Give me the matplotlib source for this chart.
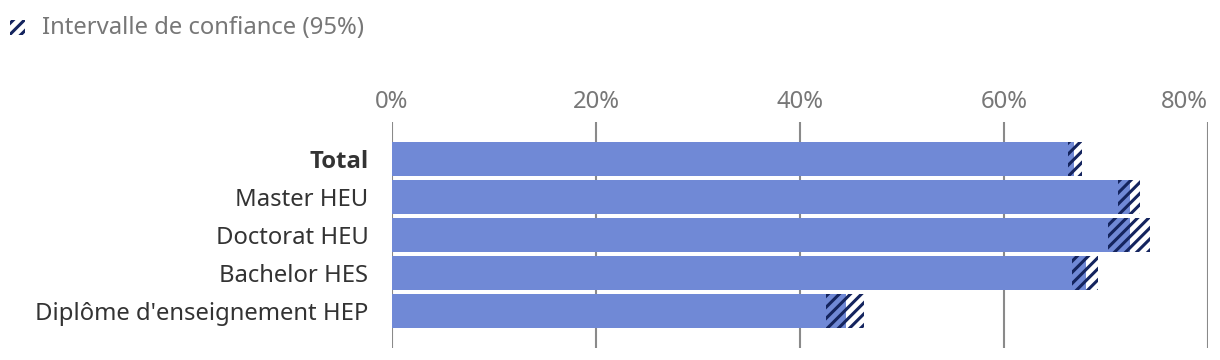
import matplotlib.pyplot as plt
from matplotlib.patches import Rectangle

plt.rcParams['font.family'] = ['Noto Sans', 'DejaVu Sans']
plt.rcParams['hatch.linewidth'] = 2.2

categories = ['Total', 'Master HEU', 'Doctorat HEU', 'Bachelor HES',
              "Diplôme d'enseignement HEP"]
values = [66.9, 72.4, 72.4, 68.0, 44.5]
ci_low = [66.3, 71.2, 70.2, 66.7, 42.5]
ci_high = [67.6, 73.3, 74.3, 69.2, 46.3]
xticks = [0, 20, 40, 60, 80]

bar_color = '#7089d6'
navy = '#14245e'
grey = '#777777'
fs = 17.2

fig = plt.figure(figsize=(12.2, 3.6), dpi=100)
ax = fig.add_axes([392 / 1220, 12 / 360, 816 / 1220, 226 / 360])

y = range(len(categories))
ax.barh(y, values, height=0.895, color=bar_color, zorder=2)
ax.barh(y, [h - l for l, h in zip(ci_low, ci_high)], left=ci_low, height=0.895,
        facecolor='none', edgecolor=navy, hatch='///', linewidth=0, zorder=3)

ax.set_xlim(0, 80)
ax.set_ylim(4.97, -0.97)
ax.set_xticks(xticks)
ax.set_xticklabels([f'{t}%' for t in xticks])
ax.xaxis.tick_top()
ax.tick_params(axis='x', length=0, pad=6, labelsize=fs, labelcolor=grey)
ax.xaxis.get_major_ticks()[-1].label2.set_ha('right')
ax.tick_params(axis='y', length=0, pad=17, labelsize=fs, labelcolor='#333333')
ax.set_yticks(list(y))
yl = ax.set_yticklabels(categories)
yl[0].set_fontweight('bold')
yl[0].set_family(['Open Sans', 'DejaVu Sans'])
ax.grid(axis='x', color='#8a8a8a', linewidth=1.5, zorder=0)
ax.set_axisbelow(True)
for s in ax.spines.values():
    s.set_visible(False)

# legend
fig.patches.append(Rectangle((10 / 1220, 1 - 35 / 360), 15 / 1220, 15 / 360,
                             transform=fig.transFigure, facecolor='white',
                             edgecolor=navy, hatch='///', linewidth=0))
fig.text(42 / 1220, 1 - 28 / 360, 'Intervalle de confiance (95%)',
         fontsize=fs, color=grey, va='center', ha='left')

fig.savefig('out.png', dpi=100)
